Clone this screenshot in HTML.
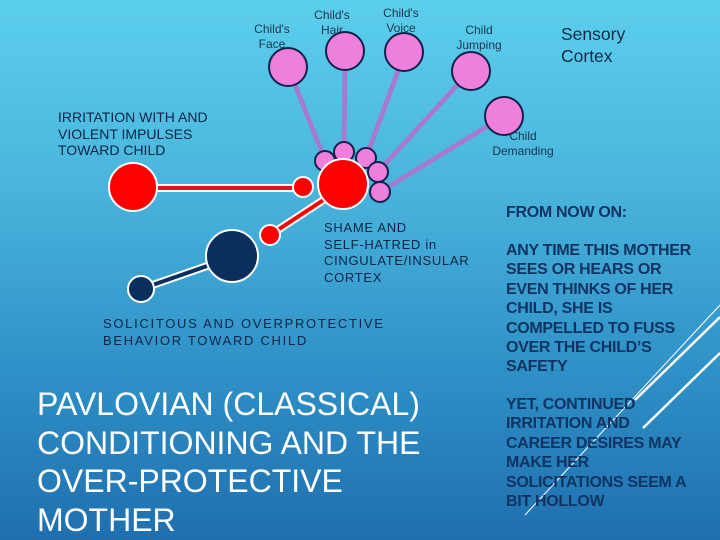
<!DOCTYPE html>
<html><head><meta charset="utf-8"><style>
html,body{margin:0;padding:0}
body{width:720px;height:540px;overflow:hidden;background:linear-gradient(180deg,#5ccfec 0%,#49b4dc 35%,#2e8fc6 70%,#1f6fae 100%);font-family:"Liberation Sans",sans-serif;position:relative}
.t{position:absolute;white-space:nowrap}
.s{font-size:12px;color:#1a3550;text-align:center;line-height:15px}
.d{font-size:13px;color:#0d2545;line-height:16.5px}
.r{position:absolute;left:506px;font-size:16px;font-weight:bold;color:#0f3462;line-height:19.4px;letter-spacing:-0.3px}
</style></head><body>
<svg width="720" height="540" style="position:absolute;left:0;top:0">
<g stroke="#a57bd0" stroke-width="5">
<line x1="288" y1="67" x2="325" y2="160"/>
<line x1="345" y1="52" x2="344" y2="152"/>
<line x1="405" y1="52" x2="366" y2="158"/>
<line x1="471" y1="70" x2="378" y2="172"/>
<line x1="504" y1="116" x2="380" y2="192"/>
</g>
<g stroke="#13224a" stroke-width="2" fill="#ef7fdc">
<circle cx="288" cy="67" r="19"/><circle cx="345" cy="51" r="19"/><circle cx="404" cy="52" r="19"/><circle cx="471" cy="71" r="19"/><circle cx="504" cy="116" r="19"/>
</g>
<line x1="155" y1="188" x2="295" y2="188" stroke="#fff" stroke-width="8"/>
<line x1="155" y1="188" x2="295" y2="188" stroke="#e0151a" stroke-width="4"/>
<line x1="270" y1="235" x2="325" y2="199" stroke="#fff" stroke-width="8"/>
<line x1="270" y1="235" x2="325" y2="199" stroke="#f00" stroke-width="4"/>
<line x1="141" y1="289" x2="210" y2="265" stroke="#fff" stroke-width="8"/>
<line x1="141" y1="289" x2="210" y2="265" stroke="#0c2f5e" stroke-width="4"/>
<g stroke="#fff" stroke-width="2">
<circle cx="133" cy="187" r="24" fill="#f00"/>
<circle cx="303" cy="187" r="10" fill="#f00"/>
<circle cx="270" cy="235" r="10" fill="#f00"/>
<circle cx="232" cy="256" r="26" fill="#0a2e5e"/>
<circle cx="141" cy="289" r="13" fill="#0a2e5e"/>
</g>
<g stroke="#13224a" stroke-width="2" fill="#ef7fdc">
<circle cx="325" cy="161" r="10"/><circle cx="344" cy="152" r="10"/><circle cx="366" cy="158" r="10"/>
</g>
<circle cx="343" cy="184" r="25" fill="#f00" stroke="#fff" stroke-width="2"/>
<g stroke="#13224a" stroke-width="2" fill="#ef7fdc">
<circle cx="378" cy="172" r="10"/><circle cx="380" cy="192" r="10"/>
</g>
<line x1="525" y1="515" x2="720" y2="305" stroke="#fff" stroke-width="1"/>
<line x1="635" y1="400" x2="720" y2="317" stroke="#fff" stroke-width="2.5"/>
<line x1="643" y1="428" x2="720" y2="353" stroke="#fff" stroke-width="2.5"/>
</svg>
<div class="t s" style="left:250px;top:22px;width:44px">Child's<br>Face</div>
<div class="t s" style="left:310px;top:8px;width:44px">Child's<br>Hair</div>
<div class="t s" style="left:379px;top:6px;width:44px">Child's<br>Voice</div>
<div class="t s" style="left:449px;top:23px;width:60px">Child<br>Jumping</div>
<div class="t s" style="left:490px;top:129px;width:66px">Child<br>Demanding</div>
<div class="t" style="left:561px;top:23px;font-size:17.5px;color:#0f2a48;line-height:22px">Sensory<br>Cortex</div>
<div class="t d" style="left:58px;top:109px;font-size:14px">IRRITATION WITH AND<br>VIOLENT IMPULSES<br>TOWARD CHILD</div>
<div class="t d" style="left:324px;top:220px;letter-spacing:0.7px">SHAME AND<br>SELF-HATRED in<br>CINGULATE/INSULAR<br>CORTEX</div>
<div class="t d" style="left:103px;top:316px;letter-spacing:1.7px">SOLICITOUS AND OVERPROTECTIVE<br>BEHAVIOR TOWARD CHILD</div>
<div class="t" style="left:37px;top:385px;font-size:32px;color:#fff;line-height:38.5px">PAVLOVIAN (CLASSICAL)<br>CONDITIONING AND THE<br>OVER-PROTECTIVE<br>MOTHER</div>
<div class="r" style="top:203px">FROM NOW ON:</div>
<div class="r" style="top:241px">ANY TIME THIS MOTHER<br>SEES OR HEARS OR<br>EVEN THINKS OF HER<br>CHILD, SHE IS<br>COMPELLED TO FUSS<br>OVER THE CHILD’S<br>SAFETY</div>
<div class="r" style="top:395px">YET, CONTINUED<br>IRRITATION AND<br>CAREER DESIRES MAY<br>MAKE HER<br>SOLICITATIONS SEEM A<br>BIT HOLLOW</div>
</body></html>
